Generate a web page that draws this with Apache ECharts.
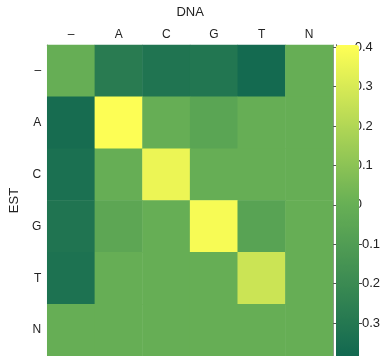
<!DOCTYPE html>
<html>
<head>
<meta charset="utf-8">
<script src="https://cdn.jsdelivr.net/npm/echarts@6/dist/echarts.min.js"></script>
<style>
  html, body { margin: 0; padding: 0; background: #fff; }
  #chart { width: 383px; height: 356px; }
</style>
</head>
<body>
<div id="chart"></div>
<script>
const dnaLabels = ['–', 'A', 'C', 'G', 'T', 'N']
const estLabels = ['–', 'A', 'C', 'G', 'T', 'N']

// one row per EST base, columns follow dnaLabels
const rowGap = [0, -0.27, -0.31, -0.30, -0.36, 0]
const rowA = [-0.35, 0.40, 0, -0.05, 0, 0]
const rowC = [-0.33, 0, 0.355, 0, 0, 0]
const rowG = [-0.31, -0.04, 0, 0.385, -0.06, 0]
const rowT = [-0.32, 0, 0, 0, 0.27, 0]
const rowN = [0, 0, 0, 0, 0, 0]

const colorMin = -0.384
const colorMax = 0.406
const colorTicks = [-0.3, -0.2, -0.1, 0, 0.1, 0.2, 0.3, 0.4]

const rows = [rowGap, rowA, rowC, rowG, rowT, rowN]
const data = []
rows.forEach((row, y) => {
  row.forEach((v, x) => data.push([x, y, v]))
})

const font = 'Liberation Sans, Arial, Helvetica, sans-serif'
const axisGray = '#666'
const fmt = v => (v < 0 ? '–' + Math.abs(v).toFixed(1) : v === 0 ? '0' : v.toFixed(1))

const chart = echarts.init(document.getElementById('chart'))
chart.setOption({
  animation: false,
  grid: [
    { left: 43, top: 45, width: 290, height: 316 },
    { left: 336, top: 45, width: 23, height: 316 }
  ],
  xAxis: [
    {
      type: 'category',
      data: dnaLabels,
      position: 'top',
      gridIndex: 0,
      name: 'DNA',
      nameLocation: 'middle',
      nameGap: 26,
      nameTextStyle: { fontFamily: font, fontSize: 13, color: '#222' },
      axisLine: { lineStyle: { color: '#999' } },
      axisTick: { inside: true, alignWithLabel: true, length: 3, lineStyle: { color: axisGray } },
      axisLabel: { fontFamily: font, fontSize: 12, color: '#222', margin: 4 },
      splitLine: { show: false }
    },
    {
      type: 'value',
      gridIndex: 1,
      position: 'top',
      axisLine: { show: true, lineStyle: { color: '#555' } },
      axisTick: { show: false },
      axisLabel: { show: false },
      splitLine: { show: false }
    }
  ],
  yAxis: [
    {
      type: 'category',
      data: estLabels,
      inverse: true,
      gridIndex: 0,
      name: 'EST',
      nameLocation: 'middle',
      nameRotate: 90,
      nameGap: 23,
      nameTextStyle: { fontFamily: font, fontSize: 13, color: '#222' },
      axisLine: { lineStyle: { color: '#999' } },
      axisTick: { inside: true, alignWithLabel: true, length: 3, lineStyle: { color: axisGray } },
      axisLabel: { fontFamily: font, fontSize: 12, color: '#222', margin: 6 },
      splitLine: { show: false }
    },
    {
      type: 'category',
      data: estLabels,
      inverse: true,
      gridIndex: 0,
      position: 'right',
      axisLine: { lineStyle: { color: '#999' } },
      axisTick: { inside: true, alignWithLabel: true, length: 3, lineStyle: { color: axisGray } },
      axisLabel: { show: false },
      splitLine: { show: false }
    },
    {
      type: 'value',
      gridIndex: 1,
      min: colorMin,
      max: colorMax,
      position: 'right',
      axisLine: { show: true, lineStyle: { color: '#555' } },
      axisTick: { show: true, inside: true, length: 3, customValues: colorTicks, lineStyle: { color: '#555' } },
      axisLabel: { fontFamily: font, fontSize: 13, color: '#222', margin: 3, customValues: colorTicks, formatter: fmt },
      splitLine: { show: false }
    },
    {
      type: 'value',
      gridIndex: 1,
      min: colorMin,
      max: colorMax,
      position: 'left',
      axisLine: { show: true, lineStyle: { color: '#555' } },
      axisTick: { show: true, inside: true, length: 3, customValues: colorTicks, lineStyle: { color: '#555' } },
      axisLabel: { show: false },
      splitLine: { show: false }
    }
  ],
  visualMap: {
    type: 'continuous',
    min: colorMin,
    max: colorMax,
    calculable: false,
    orient: 'vertical',
    left: 336,
    top: 45,
    itemWidth: 23,
    itemHeight: 316,
    padding: 0,
    text: null,
    showLabel: false,
    seriesIndex: 0,
    inRange: { color: ['#0f6650', '#68b055', '#ffff55'] }
  },
  series: [
    {
      type: 'heatmap',
      xAxisIndex: 0,
      yAxisIndex: 0,
      data: data,
      itemStyle: { borderWidth: 0 },
      emphasis: { disabled: true }
    }
  ]
})
</script>
</body>
</html>
